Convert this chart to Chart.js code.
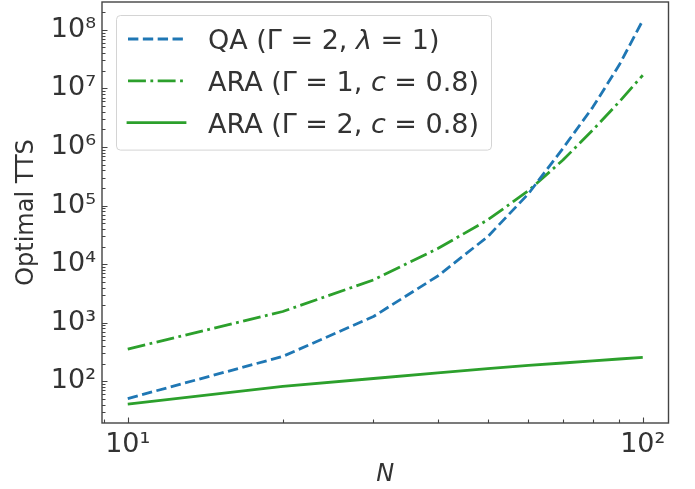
<!DOCTYPE html>
<html>
<head>
<meta charset="utf-8">
<script src="https://cdn.jsdelivr.net/npm/chart.js@4.4.0/dist/chart.umd.min.js"></script>
<style>
	body { margin: 0; background: #fff; }
	#wrap { width: 695px; height: 489px; }
</style>
</head>
<body>
<div id="wrap"><canvas id="tts_chart"></canvas></div>
<script>
// problem sizes N
const sizes = [10, 20, 30, 40, 50, 60, 70, 80, 90, 100]
// optimal TTS per method
const qaTTS = [51, 267, 1280, 6300, 29500, 160000, 950000, 4.8e6, 2.5e7, 1.45e8]
const ara1TTS = [357, 1560, 5400, 18500, 57000, 180000, 600000, 1.95e6, 5.9e6, 1.68e7]
const ara2TTS = [41, 82, 112, 140, 165, 188, 206, 224, 241, 257]
const seriesLabels = ['QA (Γ = 2, λ = 1)', 'ARA (Γ = 1, c = 0.8)', 'ARA (Γ = 2, c = 0.8)']

const xTickValues = [10, 100]
const xTickLabels = ['10¹', '10²']
const yTickValues = [1e2, 1e3, 1e4, 1e5, 1e6, 1e7, 1e8]
const yTickLabels = ['10²', '10³', '10⁴', '10⁵', '10⁶', '10⁷', '10⁸']

const FONT = 'DejaVu Sans'
const TEXT = '#333'
const SPINE = '#444'
const LW = 2.8

function pairs(ys) {
	return sizes.map(function (n, i) { return {x: n, y: ys[i]} })
}

// 1..9 x 10^k inside [min, max]
function logTicks(min, max) {
	let out = []
	for (let k = Math.floor(Math.log10(min)); k <= Math.ceil(Math.log10(max)); k++) {
		for (let m = 1; m < 10; m++) {
			let v = m * Math.pow(10, k)
			if (v >= min && v <= max) out.push({value: v, major: m === 1})
		}
	}
	return out
}

function labelFor(values, labels) {
	return function (value) {
		let i = values.findIndex(function (v) { return Math.abs(v - value) / v < 1e-6 })
		return i >= 0 ? labels[i] : ''
	}
}

// full box and inward ticks, like matplotlib
const frameTicks = {
	id: 'frameTicks',
	afterDatasetsDraw(chart) {
		const ctx = chart.ctx
		const a = chart.chartArea
		const x = chart.scales.x
		const y = chart.scales.y
		ctx.save()
		ctx.strokeStyle = SPINE
		ctx.lineWidth = 1.1
		ctx.beginPath()
		x.ticks.forEach(function (t) {
			let px = Math.round(x.getPixelForValue(t.value)) + 0.5
			if (px <= a.left + 1 || px >= a.right - 1) return
			ctx.moveTo(px, a.bottom)
			ctx.lineTo(px, a.bottom - (t.major ? 5.5 : 3.5))
		})
		y.ticks.forEach(function (t) {
			let py = Math.round(y.getPixelForValue(t.value)) + 0.5
			if (py <= a.top + 1 || py >= a.bottom - 1) return
			ctx.moveTo(a.left, py)
			ctx.lineTo(a.left + (t.major ? 5.5 : 3.5), py)
		})
		ctx.stroke()
		ctx.lineWidth = 1.4
		ctx.strokeRect(a.left, a.top, a.right - a.left, a.bottom - a.top)
		ctx.restore()
	},
}

// legend in the upper left of the plot, with italic symbols
const boxLegend = {
	id: 'boxLegend',
	afterDraw(chart) {
		const ctx = chart.ctx
		const a = chart.chartArea
		const italics = 'λc'
		const size = 27
		const left = a.left + 14
		const top = a.top + 13
		const rowGap = 41.8
		const textX = left + 92

		function runs(label) {
			let out = []
			for (const ch of label) {
				let it = italics.indexOf(ch) >= 0
				if (out.length && out[out.length - 1].it === it) out[out.length - 1].s += ch
				else out.push({s: ch, it: it})
			}
			return out
		}
		function font(it) { return (it ? 'italic ' : '') + size + 'px "' + FONT + '"' }

		let widths = chart.data.datasets.map(function (ds) {
			return runs(ds.label).reduce(function (w, r) {
				ctx.font = font(r.it)
				return w + ctx.measureText(r.s).width
			}, 0)
		})
		let width = 92 + Math.max.apply(null, widths) + 12
		let height = 24 + rowGap * 2 + 27

		ctx.save()
		ctx.beginPath()
		ctx.roundRect(left + 0.5, top + 0.5, width, height, 4)
		ctx.fillStyle = 'rgba(255,255,255,0.8)'
		ctx.fill()
		ctx.strokeStyle = '#d4d4d4'
		ctx.lineWidth = 1
		ctx.stroke()

		chart.data.datasets.forEach(function (ds, i) {
			let rowY = top + 24 + rowGap * i
			ctx.beginPath()
			ctx.setLineDash(ds.borderDash || [])
			ctx.lineCap = ds.borderDash ? 'butt' : 'square'
			ctx.strokeStyle = ds.borderColor
			ctx.lineWidth = ds.borderWidth
			ctx.moveTo(left + 12, rowY)
			ctx.lineTo(left + 69, rowY)
			ctx.stroke()
			ctx.setLineDash([])

			let tx = textX
			ctx.fillStyle = TEXT
			ctx.textBaseline = 'alphabetic'
			runs(ds.label).forEach(function (r) {
				ctx.font = font(r.it)
				ctx.fillText(r.s, tx, rowY + 9.9)
				tx += ctx.measureText(r.s).width
			})
		})
		ctx.restore()
	},
}

const xMin = Math.pow(10, 0.95)
const xMax = Math.pow(10, 2.05)
const yMin = Math.pow(10, 1.29)
const yMax = Math.pow(10, 8.475)

const tickFont = {family: FONT, size: 27}

var ctx = document.getElementById('tts_chart').getContext('2d')
var ttsChart = new Chart(ctx, {
	type: 'line',
	data: {
		datasets: [
			{
				label: seriesLabels[0],
				data: pairs(qaTTS),
				borderColor: '#1f77b4',
				borderWidth: LW,
				borderDash: [3.7 * LW, 1.6 * LW],
			},
			{
				label: seriesLabels[1],
				data: pairs(ara1TTS),
				borderColor: '#2ca02c',
				borderWidth: LW,
				borderDash: [6.4 * LW, 1.6 * LW, 1 * LW, 1.6 * LW],
			},
			{
				label: seriesLabels[2],
				data: pairs(ara2TTS),
				borderColor: '#2ca02c',
				borderWidth: LW,
			},
		],
	},
	options: {
		responsive: true,
		maintainAspectRatio: false,
		animation: false,
		devicePixelRatio: 1,
		layout: {padding: {left: 0, right: 26.5, top: 2, bottom: 0}},
		elements: {
			point: {radius: 0},
			line: {tension: 0, borderCapStyle: 'butt', borderJoinStyle: 'round', fill: false},
		},
		plugins: {
			legend: {display: false},
			tooltip: {enabled: false},
		},
		scales: {
			x: {
				type: 'logarithmic',
				min: xMin,
				max: xMax,
				afterBuildTicks: function (scale) { scale.ticks = logTicks(xMin, xMax) },
				afterFit: function (scale) {
					scale.height = 66
					scale.paddingLeft = 0
					scale.paddingRight = 0
				},
				grid: {display: false, drawTicks: false},
				border: {display: false},
				ticks: {
					autoSkip: false,
					maxRotation: 0,
					padding: 6,
					color: TEXT,
					font: tickFont,
					callback: labelFor(xTickValues, xTickLabels),
				},
				title: {
					display: true,
					text: 'N',
					color: TEXT,
					font: {family: FONT, size: 24, style: 'italic'},
					padding: {top: 0, bottom: 0},
				},
			},
			y: {
				type: 'logarithmic',
				min: yMin,
				max: yMax,
				afterBuildTicks: function (scale) { scale.ticks = logTicks(yMin, yMax) },
				afterFit: function (scale) {
					scale.width = 102
					scale.paddingTop = 0
					scale.paddingBottom = 0
				},
				grid: {display: false, drawTicks: false},
				border: {display: false},
				ticks: {
					autoSkip: false,
					padding: 6,
					color: TEXT,
					font: tickFont,
					callback: labelFor(yTickValues, yTickLabels),
				},
				title: {
					display: true,
					text: 'Optimal TTS',
					color: TEXT,
					font: {family: FONT, size: 24},
					padding: {top: 12.5, bottom: 0},
				},
			},
		},
	},
	plugins: [frameTicks, boxLegend],
})
</script>
</body>
</html>
